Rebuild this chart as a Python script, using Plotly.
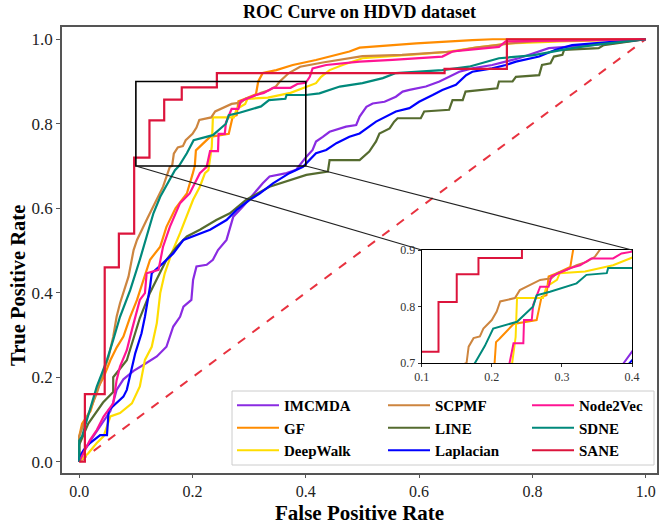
import plotly.graph_objects as go

# ROC curves (fpr, tpr pairs)
names = ["IMCMDA", "GF", "DeepWalk", "SCPMF", "LINE", "Laplacian", "Node2Vec", "SDNE", "SANE"]
colors = ["#8a2be2", "#ff8c00", "#ffdd00", "#cd853f", "#556b2f", "#0000ff", "#ff1493", "#00897b", "#dc143c"]

imcmda_fpr = [0, 0.005, 0.01, 0.02, 0.03, 0.045, 0.055, 0.06, 0.066, 0.078, 0.096, 0.113, 0.137, 0.154, 0.166, 0.178,
              0.184, 0.198, 0.201, 0.207, 0.225, 0.236, 0.245, 0.26, 0.266, 0.272, 0.289, 0.324, 0.336, 0.366, 0.383,
              0.401, 0.412, 0.418, 0.43, 0.442, 0.471, 0.489, 0.495, 0.507, 0.518, 0.539, 0.559, 0.571, 0.583, 0.612,
              0.636, 0.659, 0.671, 0.694, 0.729, 0.776, 0.812, 0.829, 0.905, 0.94, 1.0]
imcmda_tpr = [0, 0.02, 0.03, 0.05, 0.07, 0.1, 0.12, 0.14, 0.17, 0.195, 0.215, 0.229, 0.249, 0.272, 0.32, 0.343,
              0.367, 0.383, 0.43, 0.462, 0.466, 0.478, 0.501, 0.525, 0.556, 0.58, 0.604, 0.659, 0.675, 0.683, 0.691,
              0.722, 0.738, 0.758, 0.769, 0.781, 0.793, 0.797, 0.817, 0.84, 0.848, 0.852, 0.864, 0.876, 0.88, 0.888,
              0.9, 0.915, 0.923, 0.931, 0.939, 0.955, 0.971, 0.979, 0.986, 0.99, 1.0]

gf_fpr = [0, 0, 0.005, 0.01, 0.02, 0.031, 0.043, 0.055, 0.066, 0.078, 0.09, 0.102, 0.113, 0.125, 0.143, 0.154, 0.17,
          0.19, 0.2, 0.204, 0.206, 0.211, 0.231, 0.264, 0.271, 0.278, 0.281, 0.293, 0.312, 0.316, 0.324, 0.348,
          0.377, 0.418, 0.477, 0.495, 0.595, 0.694, 0.73, 1.0]
gf_tpr = [0, 0.06, 0.09, 0.1, 0.12, 0.17, 0.2, 0.24, 0.27, 0.296, 0.343, 0.383, 0.43, 0.478, 0.509, 0.556, 0.6,
          0.635, 0.68, 0.7, 0.737, 0.743, 0.769, 0.776, 0.817, 0.82, 0.853, 0.859, 0.87, 0.9, 0.92, 0.927,
          0.939, 0.951, 0.971, 0.98, 0.99, 0.998, 1.0, 1.0]

deepwalk_fpr = [0, 0.016, 0.031, 0.043, 0.055, 0.072, 0.093, 0.107, 0.116, 0.128, 0.137, 0.143, 0.151, 0.163, 0.178,
                0.19, 0.201, 0.213, 0.222, 0.228, 0.234, 0.236, 0.273, 0.278, 0.293, 0.297, 0.333, 0.373, 0.397,
                0.418, 0.427, 0.442, 0.465, 0.5, 0.6, 0.65, 0.7, 0.76, 0.85, 1.0]
deepwalk_tpr = [0, 0.02, 0.044, 0.06, 0.107, 0.115, 0.138, 0.178, 0.241, 0.272, 0.328, 0.399, 0.446, 0.493, 0.541,
                0.58, 0.62, 0.651, 0.683, 0.69, 0.746, 0.815, 0.815, 0.835, 0.847, 0.859, 0.862, 0.873, 0.885,
                0.896, 0.911, 0.927, 0.939, 0.955, 0.965, 0.97, 0.98, 0.99, 0.995, 1.0]

scpmf_fpr = [0, 0, 0.008, 0.019, 0.031, 0.043, 0.052, 0.06, 0.066, 0.072, 0.087, 0.096, 0.102, 0.12, 0.137, 0.148,
             0.16, 0.164, 0.167, 0.174, 0.183, 0.188, 0.2, 0.207, 0.212, 0.233, 0.24, 0.259, 0.269, 0.285, 0.293,
             0.307, 0.321, 0.335, 0.347, 0.354, 0.37, 0.39, 0.43, 0.5, 0.57, 0.66, 0.7, 0.76, 0.8, 1.0]
scpmf_tpr = [0, 0.06, 0.09, 0.122, 0.162, 0.209, 0.249, 0.296, 0.343, 0.375, 0.438, 0.501, 0.525, 0.575, 0.62, 0.651,
             0.698, 0.7, 0.729, 0.744, 0.747, 0.761, 0.776, 0.791, 0.809, 0.815, 0.829, 0.841, 0.847, 0.85, 0.859,
             0.865, 0.873, 0.879, 0.888, 0.9, 0.92, 0.935, 0.945, 0.96, 0.963, 0.971, 0.98, 0.99, 0.995, 1.0]

line_fpr = [0, 0, 0.016, 0.031, 0.042, 0.06, 0.06, 0.084, 0.1, 0.107, 0.125, 0.143, 0.154, 0.172, 0.19, 0.213,
            0.242, 0.266, 0.295, 0.336, 0.401, 0.439, 0.442, 0.495, 0.512, 0.524, 0.53, 0.548, 0.556, 0.562, 0.603,
            0.609, 0.653, 0.659, 0.677, 0.682, 0.738, 0.741, 0.765, 0.771, 0.812, 0.817, 0.832, 0.838, 0.853,
            0.856, 0.917, 0.926, 0.993, 1.0]
line_tpr = [0, 0.04, 0.09, 0.12, 0.14, 0.165, 0.2, 0.24, 0.31, 0.34, 0.4, 0.45, 0.478, 0.509, 0.533, 0.549,
            0.572, 0.588, 0.62, 0.651, 0.679, 0.687, 0.714, 0.714, 0.734, 0.758, 0.777, 0.789, 0.805, 0.813, 0.813,
            0.829, 0.833, 0.856, 0.856, 0.876, 0.884, 0.9, 0.9, 0.911, 0.915, 0.939, 0.943, 0.959, 0.963,
            0.975, 0.979, 0.986, 0.998, 1.0]

laplacian_fpr = [0, 0, 0.008, 0.019, 0.037, 0.049, 0.052, 0.066, 0.078, 0.084, 0.093, 0.099, 0.11, 0.116, 0.125,
                 0.128, 0.148, 0.166, 0.184, 0.201, 0.231, 0.26, 0.278, 0.301, 0.319, 0.342, 0.371, 0.395, 0.407,
                 0.418, 0.436, 0.454, 0.477, 0.495, 0.524, 0.542, 0.559, 0.583, 0.6, 0.624, 0.641, 0.665, 0.683,
                 0.694, 0.729, 0.753, 0.771, 0.812, 0.841, 0.87, 0.9, 0.941, 1.0]
laplacian_tpr = [0, 0.01, 0.028, 0.044, 0.063, 0.063, 0.122, 0.138, 0.154, 0.17, 0.225, 0.257, 0.304, 0.343, 0.414,
                 0.446, 0.47, 0.493, 0.525, 0.533, 0.549, 0.572, 0.596, 0.62, 0.635, 0.659, 0.683, 0.698, 0.714,
                 0.73, 0.738, 0.754, 0.769, 0.777, 0.805, 0.817, 0.829, 0.837, 0.852, 0.868, 0.88, 0.892, 0.915,
                 0.923, 0.931, 0.939, 0.947, 0.959, 0.975, 0.986, 0.99, 0.994, 1.0]

node2vec_fpr = [0, 0.01, 0.019, 0.031, 0.043, 0.06, 0.066, 0.072, 0.084, 0.093, 0.107, 0.116, 0.119, 0.14, 0.148,
                0.16, 0.178, 0.195, 0.201, 0.213, 0.225, 0.231, 0.245, 0.246, 0.257, 0.259, 0.269, 0.281, 0.285,
                0.312, 0.326, 0.342, 0.373, 0.385, 0.4, 0.407, 0.412, 0.436, 0.495, 0.553, 0.641, 0.659, 0.741,
                0.753, 1.0]
node2vec_tpr = [0, 0.028, 0.051, 0.075, 0.107, 0.138, 0.193, 0.225, 0.264, 0.312, 0.383, 0.399, 0.446, 0.454, 0.509,
                0.556, 0.612, 0.635, 0.651, 0.683, 0.698, 0.735, 0.735, 0.776, 0.776, 0.803, 0.835, 0.835, 0.853,
                0.868, 0.873, 0.885, 0.885, 0.894, 0.897, 0.911, 0.931, 0.939, 0.947, 0.951, 0.959, 0.971, 0.982,
                0.995, 1.0]

sdne_fpr = [0, 0, 0.005, 0.014, 0.022, 0.031, 0.04, 0.049, 0.06, 0.072, 0.09, 0.096, 0.107, 0.119, 0.131, 0.143,
            0.154, 0.169, 0.176, 0.19, 0.202, 0.236, 0.259, 0.264, 0.283, 0.321, 0.335, 0.364, 0.366, 0.4, 0.424,
            0.46, 0.5, 0.536, 0.559, 0.595, 0.641, 0.688, 0.741, 0.8, 0.823, 0.87, 0.917, 1.0]
sdne_tpr = [0, 0.05, 0.06, 0.099, 0.138, 0.178, 0.209, 0.241, 0.288, 0.343, 0.406, 0.43, 0.478, 0.533, 0.588, 0.627,
            0.655, 0.69, 0.7, 0.73, 0.761, 0.773, 0.8, 0.82, 0.826, 0.841, 0.856, 0.859, 0.868, 0.868, 0.872,
            0.888, 0.896, 0.908, 0.92, 0.923, 0.927, 0.935, 0.955, 0.962, 0.968, 0.979, 0.988, 1.0]

sane_fpr = [0, 0.01, 0.01, 0.045, 0.045, 0.07, 0.07, 0.097, 0.097, 0.124, 0.124, 0.15, 0.15, 0.181, 0.181, 0.243,
            0.243, 0.645, 0.645, 0.755, 0.755, 1.0]
sane_tpr = [0, 0, 0.16, 0.16, 0.46, 0.46, 0.54, 0.54, 0.72, 0.72, 0.808, 0.808, 0.857, 0.857, 0.886, 0.886,
            0.92, 0.92, 0.93, 0.93, 1.0, 1.0]

fprs = [imcmda_fpr, gf_fpr, deepwalk_fpr, scpmf_fpr, line_fpr, laplacian_fpr, node2vec_fpr, sdne_fpr, sane_fpr]
tprs = [imcmda_tpr, gf_tpr, deepwalk_tpr, scpmf_tpr, line_tpr, laplacian_tpr, node2vec_tpr, sdne_tpr, sane_tpr]

chance = [0, 1]
zoom_x = [0.1, 0.4]
zoom_y = [0.7, 0.9]

X_RANGE = [-0.0304, 1.02]
Y_RANGE = [-0.0268, 1.029]
INSET_X = [0.6045, 0.958]
INSET_Y = [0.2466, 0.5]

SERIF = "Liberation Serif"

fig = go.Figure()

for ax in ["x", "x2"]:
    fig.add_trace(go.Scatter(
        x=chance, y=chance, mode="lines", showlegend=False,
        line=dict(color="#e8323f", width=2, dash="dash"),
        xaxis=ax, yaxis=ax.replace("x", "y"),
    ))

for i, (name, color) in enumerate(zip(names, colors)):
    leg = "legend" if i < 3 else f"legend{i // 3 + 1}"
    fig.add_trace(go.Scatter(
        x=fprs[i], y=tprs[i], mode="lines", name=name,
        line=dict(color=color, width=2.2), legend=leg,
    ))
    fig.add_trace(go.Scatter(
        x=fprs[i], y=tprs[i], mode="lines", showlegend=False,
        line=dict(color=color, width=2), xaxis="x2", yaxis="y2",
    ))


def to_paper(xd, yd):
    return ((xd - X_RANGE[0]) / (X_RANGE[1] - X_RANGE[0]),
            (yd - Y_RANGE[0]) / (Y_RANGE[1] - Y_RANGE[0]))


shapes = [
    dict(type="rect", xref="x", yref="y", x0=zoom_x[0], x1=zoom_x[1], y0=zoom_y[0], y1=zoom_y[1],
         line=dict(color="black", width=1.6), layer="above"),
]
for xd, xi in [(zoom_x[0], INSET_X[0]), (zoom_x[1], INSET_X[1])]:
    px, py = to_paper(xd, zoom_y[0])
    shapes.append(dict(type="line", xref="paper", yref="paper", x0=px, y0=py, x1=xi, y1=INSET_Y[1],
                       line=dict(color="#222", width=1.2), layer="above"))

# legend frame
shapes.append(dict(type="rect", xref="paper", yref="paper",
                   x0=(232 - 62) / 595, x1=(654 - 62) / 595, y0=(473 - 465) / 446, y1=(473 - 391) / 446,
                   line=dict(color="#cccccc", width=1), fillcolor="rgba(255,255,255,0.85)", layer="above"))

legend_font = dict(family=SERIF, size=15, color="black", weight="bold")
leg_common = dict(font=legend_font, bgcolor="rgba(0,0,0,0)", borderwidth=0, tracegroupgap=0,
                  itemwidth=42, yanchor="top", xanchor="left", y=(473 - 389) / 446)

axis_common = dict(showgrid=False, zeroline=False, showline=True, mirror=True, automargin=False,
                   tickformat=".1f")

fig.update_layout(
    width=666, height=525,
    margin=dict(l=62, r=9, t=27, b=52, autoexpand=False),
    paper_bgcolor="white", plot_bgcolor="white",
    title=dict(text="<b>ROC Curve on HDVD dataset</b>", x=(62 + 657) / 2 / 666, xanchor="center",
               y=1 - 12 / 525, yanchor="middle", font=dict(family=SERIF, size=18, color="black")),
    xaxis=dict(range=X_RANGE, domain=[0, 1], tickvals=[0, 0.2, 0.4, 0.6, 0.8, 1.0],
               linecolor="#555", linewidth=1.5, ticks="outside", ticklen=3, tickcolor="#555",
               tickfont=dict(family=SERIF, size=16, color="#222"), **axis_common),
    yaxis=dict(range=Y_RANGE, domain=[0, 1], tickvals=[0, 0.2, 0.4, 0.6, 0.8, 1.0],
               linecolor="#555", linewidth=1.5, ticks="outside", ticklen=4, tickcolor="#555",
               tickfont=dict(family=SERIF, size=17, color="#222"), **axis_common),
    xaxis2=dict(range=zoom_x, domain=INSET_X, anchor="y2", tickvals=[0.1, 0.2, 0.3, 0.4],
                linecolor="black", linewidth=1, ticks="outside", ticklen=3, tickcolor="#333",
                tickfont=dict(family=SERIF, size=12, color="#333"), **axis_common),
    yaxis2=dict(range=zoom_y, domain=INSET_Y, anchor="x2", tickvals=[0.7, 0.8, 0.9],
                linecolor="black", linewidth=1, ticks="outside", ticklen=3, tickcolor="#333",
                tickfont=dict(family=SERIF, size=12, color="#333"), **axis_common),
    legend=dict(x=(232 - 62) / 595, **leg_common),
    legend2=dict(x=(383 - 62) / 595, **leg_common),
    legend3=dict(x=(527 - 62) / 595, **leg_common),
    shapes=shapes,
    annotations=[
        dict(text="<b>False Positive Rate</b>", xref="paper", yref="paper", x=0.5, y=(473 - 513) / 446,
             xanchor="center", yanchor="middle", showarrow=False,
             font=dict(family=SERIF, size=21, color="black")),
        dict(text="<b>True Positive Rate</b>", xref="paper", yref="paper", x=(18 - 62) / 595,
             y=(473 - 286) / 446, xanchor="center", yanchor="middle", textangle=-90, showarrow=False,
             font=dict(family=SERIF, size=20.5, color="black")),
    ],
)

fig.write_html("out.html", config={"displayModeBar": False},
               post_script="document.body.style.margin = '0px';")
